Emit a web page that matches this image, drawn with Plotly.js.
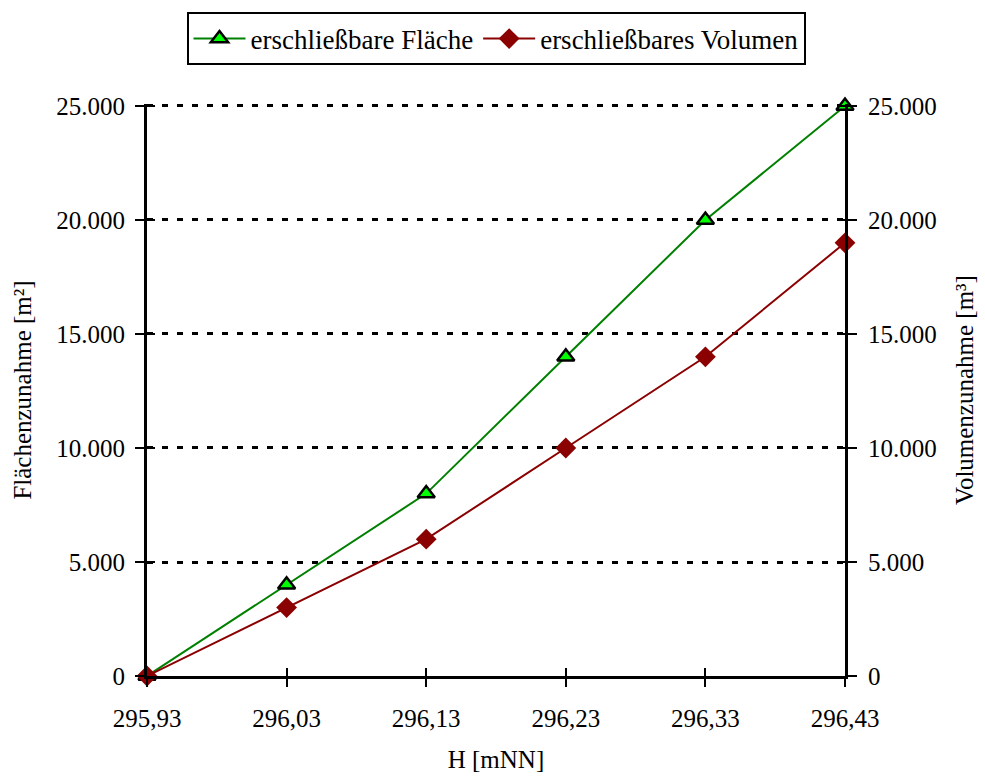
<!DOCTYPE html>
<html>
<head>
<meta charset="utf-8">
<script src="https://cdn.plot.ly/plotly-3.0.1.min.js"></script>
<style>html,body{margin:0;padding:0;background:#fff;}#chart{width:985px;height:776px;}</style>
</head>
<body>
<div id="chart"></div>
<script>
// Data
const hoehe = [295.93, 296.03, 296.13, 296.23, 296.33, 296.43];
const flaeche = [0, 4000, 8000, 14000, 20000, 25000];
const volumen = [0, 3000, 6000, 10000, 14000, 19000];
const yTicks = [0, 5000, 10000, 15000, 20000, 25000];
const nameFlaeche = 'erschließbare Fläche';
const nameVolumen = 'erschließbares Volumen';

const FONT = '"Liberation Serif", "Times New Roman", serif';
const FS = 25;
const YMAX = 25087;

const traces = [
  {
    x: hoehe, y: flaeche, name: nameFlaeche, type: 'scatter', mode: 'lines+markers',
    xaxis: 'x', yaxis: 'y',
    line: {color: '#008000', width: 2},
    marker: {symbol: 'triangle-up', size: 15, color: '#00ff00', line: {color: '#000000', width: 2.5}},
    cliponaxis: false
  },
  {
    x: hoehe, y: volumen, name: nameVolumen, type: 'scatter', mode: 'lines+markers',
    xaxis: 'x', yaxis: 'y2',
    line: {color: '#8b0000', width: 2},
    marker: {symbol: 'diamond', size: 16, color: '#8b0000', line: {color: '#8b0000', width: 0}},
    cliponaxis: false
  },
  // invisible helper traces so that the crossing-tick overlay axes are drawn
  {x: hoehe, y: flaeche, xaxis: 'x2', yaxis: 'y3', mode: 'markers', marker: {opacity: 0}, showlegend: false, hoverinfo: 'skip'},
  {x: hoehe, y: volumen, xaxis: 'x2', yaxis: 'y4', mode: 'markers', marker: {opacity: 0}, showlegend: false, hoverinfo: 'skip'}
];

const tickFont = {family: FONT, size: FS, color: '#000'};
const yBase = {
  range: [0, YMAX], tickvals: yTicks, tickformat: ',d',
  showline: true, linecolor: '#000', linewidth: 3,
  ticks: 'outside', ticklen: 9, tickwidth: 2, tickcolor: '#000',
  tickfont: tickFont, zeroline: false, fixedrange: true
};

const layout = {
  width: 985, height: 776,
  margin: {l: 147, r: 140, t: 102, b: 100},
  paper_bgcolor: '#fff', plot_bgcolor: '#fff',
  separators: ',.',
  font: {family: FONT, size: FS, color: '#000'},
  showlegend: true,
  legend: {
    orientation: 'h', x: 0.5, xanchor: 'center', y: 1.16, yanchor: 'top',
    bgcolor: '#fff', bordercolor: '#000', borderwidth: 2,
    font: {family: FONT, size: 27, color: '#000'},
    itemwidth: 52, tracegroupgap: 0
  },
  xaxis: {
    range: [295.93, 296.43], tickvals: hoehe, tickformat: '.2f',
    showline: true, linecolor: '#000', linewidth: 3,
    ticks: 'outside', ticklen: 8, tickwidth: 2, tickcolor: '#000',
    tickfont: tickFont, ticklabelstandoff: 10,
    showgrid: false, zeroline: false, fixedrange: true,
    title: {text: 'H [mNN]', font: {family: FONT, size: FS}, standoff: 20}
  },
  xaxis2: {
    overlaying: 'x', range: [295.93, 296.43], tickvals: hoehe,
    ticks: 'inside', ticklen: 8, tickwidth: 2, tickcolor: '#000',
    showticklabels: false, showline: false, showgrid: false, zeroline: false, side: 'bottom', fixedrange: true
  },
  yaxis: Object.assign({}, yBase, {
    side: 'left',
    showgrid: true, gridcolor: '#000', gridwidth: 3, griddash: '6px,9px',
    ticklabelstandoff: 5,
    title: {text: 'Flächenzunahme [m²]', font: {family: FONT, size: FS}, standoff: 18}
  }),
  yaxis2: Object.assign({}, yBase, {
    side: 'right', overlaying: 'y', showgrid: false,
    ticklabelstandoff: 6,
    title: {text: 'Volumenzunahme [m³]', font: {family: FONT, size: FS}, standoff: 20}
  }),
  yaxis3: {
    overlaying: 'y', side: 'left', range: [0, YMAX], tickvals: yTicks,
    ticks: 'inside', ticklen: 8, tickwidth: 2, tickcolor: '#000',
    showticklabels: false, showline: false, showgrid: false, zeroline: false, fixedrange: true
  },
  yaxis4: {
    overlaying: 'y', side: 'right', range: [0, YMAX], tickvals: yTicks,
    ticks: 'inside', ticklen: 8, tickwidth: 2, tickcolor: '#000',
    showticklabels: false, showline: false, showgrid: false, zeroline: false, fixedrange: true
  }
};

Plotly.newPlot('chart', traces, layout, {displayModeBar: false, staticPlot: true});
</script>
</body>
</html>
